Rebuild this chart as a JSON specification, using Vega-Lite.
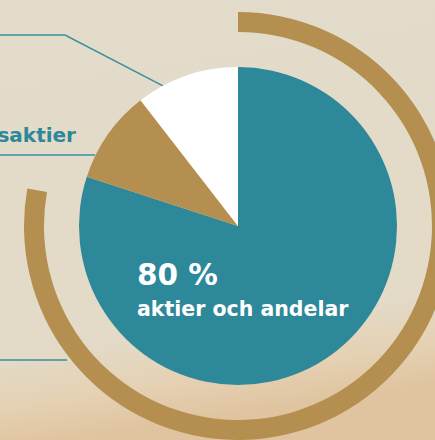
{
  "$schema": "https://vega.github.io/schema/vega-lite/v6.json",
  "width": 394,
  "height": 428,
  "autosize": {"type": "none"},
  "padding": {"left": 41, "top": 12, "right": 0, "bottom": 0},
  "background": "#E3DCCA",
  "config": {"view": {"stroke": null}},
  "resolve": {"scale": {"color": "independent"}},
  "datasets": {
    "pie": [
      {"kategori": "aktier och andelar", "andel": 80, "i": 1},
      {"kategori": "saktier", "andel": 9.5, "i": 2},
      {"kategori": "övrigt", "andel": 10.5, "i": 3}
    ],
    "ring": [
      {"del": "båge", "andel": 77.8, "i": 1},
      {"del": "lucka", "andel": 22.2, "i": 2}
    ],
    "lines": [
      {"linje": "a", "i": 1, "x": -1.5, "y": 1.201},
      {"linje": "a", "i": 2, "x": -1.088, "y": 1.201},
      {"linje": "a", "i": 3, "x": -0.472, "y": 0.881},
      {"linje": "b", "i": 1, "x": -1.5, "y": 0.447},
      {"linje": "b", "i": 2, "x": -0.899, "y": 0.447},
      {"linje": "c", "i": 1, "x": -1.5, "y": -0.843},
      {"linje": "c", "i": 2, "x": -1.075, "y": -0.843}
    ]
  },
  "layer": [
    {
      "data": {"values": [{"yta": "bakgrund"}]},
      "mark": {
        "type": "rect",
        "fill": {
          "gradient": "linear", "x1": 0, "y1": 0, "x2": 0.15, "y2": 1,
          "stops": [
            {"offset": 0, "color": "#E3DCCA"},
            {"offset": 0.8, "color": "#E3DAC7"},
            {"offset": 0.9, "color": "#E5D2B5"},
            {"offset": 1, "color": "#E0C4A0"}
          ]
        }
      },
      "encoding": {
        "x": {"datum": -1.5, "type": "quantitative", "scale": {"domain": [-1.239, 1.239], "nice": false, "zero": false}, "axis": null},
        "x2": {"datum": 1.239},
        "y": {"datum": 1.422, "type": "quantitative", "scale": {"domain": [-1.346, 1.346], "nice": false, "zero": false}, "axis": null},
        "y2": {"datum": -1.346}
      }
    },
    {
      "data": {"name": "lines"},
      "mark": {"type": "line", "stroke": "#3A8E9E", "strokeWidth": 1.5},
      "encoding": {
        "x": {"field": "x", "type": "quantitative", "scale": {"domain": [-1.239, 1.239], "nice": false, "zero": false}, "axis": null},
        "y": {"field": "y", "type": "quantitative", "scale": {"domain": [-1.346, 1.346], "nice": false, "zero": false}, "axis": null},
        "detail": {"field": "linje"},
        "order": {"field": "i"}
      }
    },
    {
      "data": {"name": "ring"},
      "mark": {"type": "arc", "innerRadius": 194, "outerRadius": 214, "stroke": null},
      "encoding": {
        "theta": {"field": "andel", "type": "quantitative", "stack": true},
        "order": {"field": "i"},
        "color": {"field": "del", "type": "nominal", "scale": {"domain": ["båge", "lucka"], "range": ["#B58F50", "rgba(0,0,0,0)"]}, "legend": null}
      }
    },
    {
      "data": {"name": "pie"},
      "mark": {"type": "arc", "outerRadius": 159, "stroke": null},
      "encoding": {
        "theta": {"field": "andel", "type": "quantitative", "stack": true},
        "order": {"field": "i"},
        "color": {"field": "kategori", "type": "nominal", "scale": {"domain": ["aktier och andelar", "saktier", "övrigt"], "range": ["#2D8899", "#B58F50", "#FFFFFF"]}, "legend": null}
      }
    },
    {
      "data": {"values": [{"text": "80 %"}]},
      "mark": {"type": "text", "align": "left", "baseline": "alphabetic", "font": "DejaVu Sans", "fontWeight": "bold", "fontSize": 29.5, "color": "#FFFFFF"},
      "encoding": {
        "text": {"field": "text"},
        "x": {"datum": -0.635, "type": "quantitative", "scale": {"domain": [-1.239, 1.239], "nice": false, "zero": false}},
        "y": {"datum": -0.371, "type": "quantitative", "scale": {"domain": [-1.346, 1.346], "nice": false, "zero": false}}
      }
    },
    {
      "data": {"values": [{"text": "aktier och andelar"}]},
      "mark": {"type": "text", "align": "left", "baseline": "alphabetic", "font": "DejaVu Sans", "fontWeight": "bold", "fontSize": 20.5, "color": "#FFFFFF"},
      "encoding": {
        "text": {"field": "text"},
        "x": {"datum": -0.635, "type": "quantitative", "scale": {"domain": [-1.239, 1.239], "nice": false, "zero": false}},
        "y": {"datum": -0.566, "type": "quantitative", "scale": {"domain": [-1.346, 1.346], "nice": false, "zero": false}}
      }
    },
    {
      "data": {"values": [{"text": "saktier"}]},
      "mark": {"type": "text", "align": "right", "baseline": "alphabetic", "font": "DejaVu Sans", "fontWeight": "bold", "fontSize": 20, "color": "#2D8899"},
      "encoding": {
        "text": {"field": "text"},
        "x": {"datum": -1.019, "type": "quantitative", "scale": {"domain": [-1.239, 1.239], "nice": false, "zero": false}},
        "y": {"datum": 0.528, "type": "quantitative", "scale": {"domain": [-1.346, 1.346], "nice": false, "zero": false}}
      }
    }
  ]
}
